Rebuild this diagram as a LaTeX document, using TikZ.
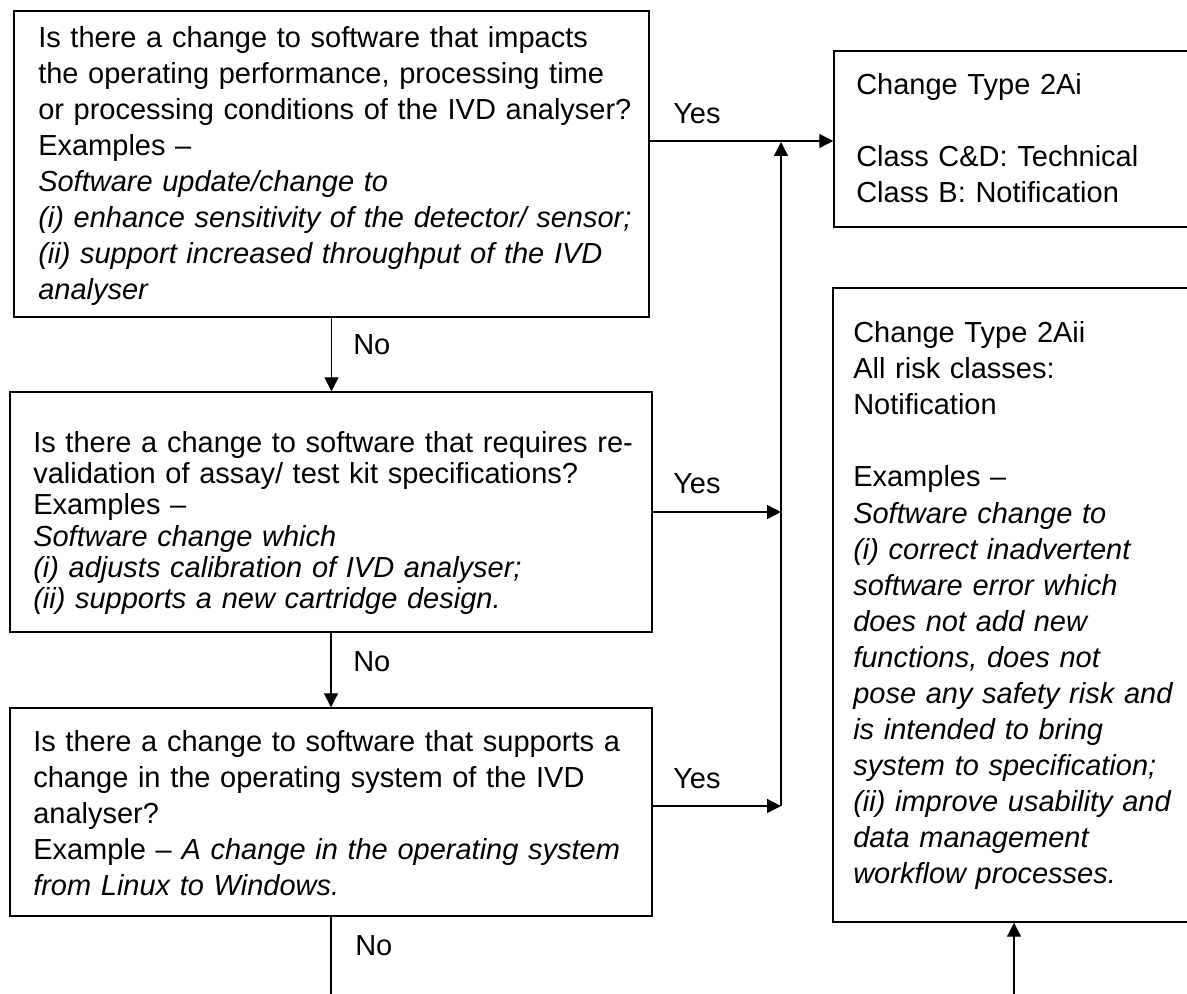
\documentclass[tikz,border=0pt]{standalone}
\usepackage{fontspec}
\setmainfont{Liberation Sans}
\usetikzlibrary{arrows.meta,fit}
\begin{document}
\begin{tikzpicture}[x=0.75pt,y=-0.75pt,
  box/.style={draw=black,line width=1.1pt,inner sep=0pt},
  txt/.style={anchor=base west,inner sep=0pt,text width=470pt,align=left,font=\fontsize{21.75pt}{27pt}\selectfont},
  txtb/.style={txt,font=\fontsize{21.75pt}{23.5pt}\selectfont},
  lbl/.style={anchor=base west,inner sep=0pt,font=\fontsize{21.75pt}{27pt}\selectfont},
  arr/.style={line width=1pt,-{Triangle[length=10.5pt,width=10.5pt]}},
  ln/.style={line width=1pt}]
\useasboundingbox (0,0) rectangle (1187,994);
\clip (0,0) rectangle (1187,994);
\fill[white] (0,0) rectangle (1187,994);

% boxes
\node[box,fit={(14,11) (649,317)}] (q1) {};
\node[box,fit={(10,392) (652,632)}] (q2) {};
\node[box,fit={(10,708) (652,916)}] (q3) {};
\node[box,fit={(834,51) (1195,227)}] (r1) {};
\node[box,fit={(833,288) (1195,922)}] (r2) {};

% texts
\node[txt] (t1) at (38,48) {Is there a change to software that impacts\\
the operating performance, processing time\\
or processing conditions of the IVD analyser?\\
Examples –\\
\itshape Software update/change to\\
(i) enhance sensitivity of the detector/ sensor;\\
(ii) support increased throughput of the IVD\\
analyser};

\node[txtb] (t2) at (33,452) {Is there a change to software that requires re-\\
validation of assay/ test kit specifications?\\
Examples –\\
\itshape Software change which\\
(i) adjusts calibration of IVD analyser;\\
(ii) supports a new cartridge design.};

\node[txt] (t3) at (33,751) {Is there a change to software that supports a\\
change in the operating system of the IVD\\
analyser?\\
Example – \textit{A change in the operating system}\\
\itshape from Linux to Windows.};

\node[txt] (t4) at (856,95) {Change Type 2Ai\\[27pt]
Class C\&D: Technical\\
Class B: Notification};

\node[txt] (t5) at (853,343) {Change Type 2Aii\\
All risk classes:\\
Notification\\[27pt]
Examples –\\
\itshape Software change to\\
(i) correct inadvertent\\
software error which\\
does not add new\\
functions, does not\\
pose any safety risk and\\
is intended to bring\\
system to specification;\\
(ii) improve usability and\\
data management\\
workflow processes.};

% coordinates
\coordinate (vb) at (781,806);
\coordinate (vt) at (781,142);
\coordinate (bot) at (0,1000);

% connectors
\draw[arr] (q1.south) -- (q1.south |- q2.north);
\draw[arr] (q2.south) -- (q2.south |- q3.north);
\draw[ln] (q3.south) -- (q3.south |- bot);
\draw[arr] (q1.east |- 0,141) -- (r1.west |- 0,141);
\draw[arr] (vb) -- (vt);
\draw[arr] (q2.east) -- (q2.east -| vb);
\draw[arr] (q3.east |- vb) -- (vb);
\draw[arr] (r2.south |- bot) -- (r2.south);

% labels
\node[lbl] (y1) at (673,124) {Yes};
\node[lbl] (y2) at (673,493) {Yes};
\node[lbl] (y3) at (673,788) {Yes};
\node[lbl] (n1) at (353,355) {No};
\node[lbl] (n2) at (353,671) {No};
\node[lbl] (n3) at (355,955) {No};
\end{tikzpicture}
\end{document}
